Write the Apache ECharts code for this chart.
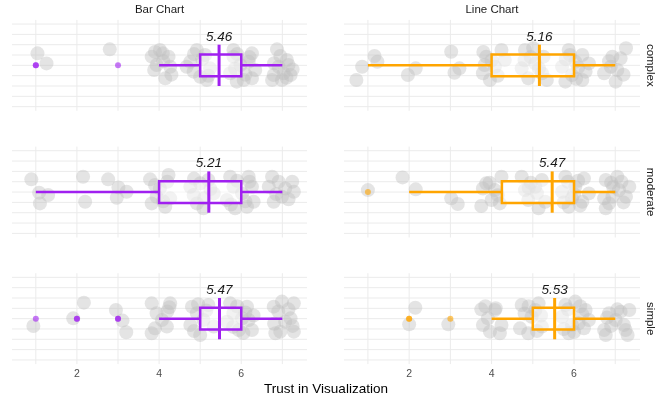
<!DOCTYPE html>
<html>
<head>
<meta charset="utf-8">
<script src="https://cdn.jsdelivr.net/npm/echarts@6/dist/echarts.min.js"></script>
<style>html,body{margin:0;padding:0;background:#fff}#c{width:670px;height:402px}</style>
</head>
<body>
<div id="c"></div>
<script>
// ---------- data ----------
const facetCols = ['Bar Chart', 'Line Chart'];
const facetRows = ['complex', 'moderate', 'simple'];
const xTickLabels = [2, 4, 6];
const colColors = ['#A020F0', '#FFA500'];

// jittered points [value + jitter, vertical jitter]
const ptsBarComplex = [[1.04,1.16],[1.26,0.19],[2.8,1.55],
 [3.82,0.84],[3.94,0.03],[4.09,1.16],[4.23,0.84],[4.15,-1.26],[3.88,-0.45],[4.27,-0.13],[4.02,1.48],[4.1,0.4],[3.9,1.3],[4.3,-0.9],
 [4.76,0.35],[4.92,1.48],[4.84,-0.61],[5.16,-1.42],[5.12,1.0],[4.67,-0.13],[5.24,-0.29],[5.0,-1.1],[5.05,0.6],[4.85,1.1],[5.2,-1.0],
 [5.81,1.48],[5.89,-1.58],[6.26,1.16],[6.26,-1.26],[5.73,-0.77],[5.98,0.03],[6.18,0.35],[5.81,0.84],[6.06,-1.42],[6.34,-0.45],[5.9,1.1],[6.1,-0.9],[6.2,0.8],[5.85,-0.3],
 [6.87,1.55],[7.11,0.52],[6.79,-0.94],[7.03,-0.77],[7.2,-0.94],[6.75,-1.42],[6.99,-1.42],[7.15,0.03],[6.91,-0.13],[6.95,0.9],[7.25,-0.4],[6.8,0.2],[7.1,-1.2]];
const ptsLineComplex = [[0.72,-1.42],[0.86,-0.13],[1.16,0.9],[1.23,0.35],
 [1.97,-0.94],[2.16,-0.29],[3.02,1.32],[3.1,-0.71],[3.22,-0.29],
 [3.79,-0.77],[3.87,0.84],[3.96,-1.42],[4.24,1.48],[4.08,-0.13],[3.83,0.03],[4.32,0.52],[4.0,0.5],[4.15,-1.0],[3.8,1.3],
 [4.81,1.48],[5.01,1.65],[5.26,0.84],[4.73,-0.29],[4.89,-1.26],[5.22,-0.77],[5.06,0.19],[5.34,-1.42],[4.95,0.8],[5.15,-0.3],[4.8,0.5],
 [5.79,-1.58],[5.87,1.48],[6.2,1.0],[6.28,-0.61],[6.2,-1.42],[5.71,-0.13],[6.03,0.35],[6.36,0.19],[5.95,-0.94],[5.9,1.0],[6.1,-0.2],[5.8,0.6],[6.05,-1.3],
 [6.73,-0.77],[6.93,0.84],[7.26,1.65],[7.13,0.68],[7.05,-0.45],[7.01,-1.58],[6.89,-0.13],[7.2,-0.9],[6.85,0.4]];
const ptsBarModerate = [[0.89,1.23],[1.08,-0.06],[1.1,-1.1],[1.3,-0.29],
 [2.15,1.48],[2.2,-0.94],[2.76,1.23],[3.01,0.45],[2.97,-0.55],[3.21,0.03],
 [3.78,1.23],[4.23,1.65],[3.82,-1.1],[4.15,-1.42],[4.02,0.35],[3.94,-0.45],[4.27,-0.61],[3.9,0.68],[4.1,-0.9],[4.2,1.0],
 [4.84,-0.29],[5.0,0.84],[5.33,-0.13],[5.08,-1.58],[4.92,-1.1],[5.2,1.16],[4.76,0.52],[5.1,-0.6],[4.85,1.3],[5.25,0.3],
 [5.73,1.48],[5.85,-1.58],[6.18,1.48],[6.3,-0.94],[5.65,-0.77],[6.02,-0.13],[6.14,-1.42],[5.81,0.52],[6.26,0.52],[5.9,1.1],[6.1,-0.9],[5.75,-1.2],[6.2,1.0],
 [6.75,1.48],[6.79,-0.94],[6.99,-0.45],[7.24,1.0],[7.28,0.03],[6.67,0.52],[7.07,0.35],[6.91,1.0],[6.85,-0.2],[7.15,-0.7]];
const ptsLineModerate = [[1.0,0.19],[1.84,1.42],[2.16,0.26],[3.02,-0.61],[3.18,-1.16],
 [3.75,-1.35],[3.87,0.84],[4.0,-0.77],[4.24,1.48],[4.08,0.19],[4.2,-1.1],[3.79,0.35],[3.95,0.9],[4.15,-0.3],
 [4.73,1.48],[4.89,-0.77],[5.14,-1.58],[5.3,-0.94],[5.06,0.52],[4.81,0.19],[5.22,1.16],[4.95,0.9],[5.1,-0.1],[4.9,0.4],
 [5.79,1.48],[5.87,-1.42],[6.24,1.32],[6.2,-0.94],[5.71,0.03],[6.03,0.52],[6.36,-0.13],[5.95,-0.61],[5.85,1.0],[6.1,1.1],[5.75,-1.0],[6.15,-1.3],[6.0,-0.2],
 [6.77,-1.58],[6.77,1.16],[7.05,1.48],[7.26,-0.45],[7.34,0.52],[6.93,-0.45],[7.09,0.19],[6.73,-0.61],[6.9,0.9],[7.15,1.0],[6.85,-1.1],[7.2,-1.0],[6.95,0.5]];
const ptsBarSimple = [[0.94,-0.71],[1.91,0.03],[2.17,1.55],[2.95,0.84],[3.11,-0.19],[3.2,-1.32],
 [3.82,1.48],[3.82,-1.42],[4.27,1.48],[3.94,0.52],[4.19,-0.77],[3.9,-0.94],[4.07,-0.13],[4.2,0.7],[4.25,1.1],
 [4.8,1.16],[5.2,1.32],[5.0,-1.58],[4.76,-0.61],[5.08,-0.13],[4.92,0.52],[5.33,-0.77],[4.85,-1.2],[5.15,0.8],[4.95,1.4],
 [5.73,1.48],[5.94,-1.1],[6.14,1.16],[6.26,-1.1],[5.65,-0.29],[6.02,0.03],[6.18,-0.13],[5.81,0.52],[5.9,1.2],[6.1,0.6],[5.8,-0.8],[6.05,-1.4],[6.3,0.3],
 [6.79,1.16],[6.99,1.65],[7.28,1.48],[6.83,-1.42],[7.28,-1.26],[7.07,-0.29],[7.2,0.03],[6.95,-1.26],[6.9,0.7],[7.15,0.9],[6.8,-0.5],[7.25,-0.7]];
const ptsLineSimple = [[2.0,-0.55],[2.15,1.06],[2.95,-0.55],
 [3.75,0.9],[3.79,-0.61],[3.96,-1.26],[4.2,-1.42],[4.08,0.84],[3.91,0.03],[4.24,-0.61],[3.85,1.2],[4.1,1.0],
 [4.73,1.32],[4.69,-0.94],[4.89,-1.42],[5.14,1.48],[5.22,-0.77],[4.97,0.19],[5.06,0.84],[4.8,0.5],[5.2,0.3],[4.9,1.2],[5.1,-1.2],
 [5.79,1.32],[5.87,-1.42],[6.28,0.84],[6.24,-0.94],[5.71,0.19],[6.03,1.65],[6.11,-0.45],[5.95,-0.61],[6.36,-0.13],[5.85,0.9],[6.15,1.2],[5.75,-1.0],[6.0,-1.3],[6.2,0.4],
 [6.73,-1.1],[6.77,-1.58],[6.85,0.52],[7.13,0.68],[7.3,-1.58],[7.21,-0.61],[7.34,0.84],[7.01,-0.13],[6.8,0.1],[7.05,0.9],[7.25,-1.1],[6.9,-0.7]];

// box stats: [whiskerLow, Q1, Q3, whiskerHigh, mean]
const statsBarComplex = [4, 5, 6, 7, 5.46];
const statsLineComplex = [1, 4, 6, 7, 5.16];
const statsBarModerate = [1, 4, 6, 7, 5.21];
const statsLineModerate = [2, 4.25, 6, 7, 5.47];
const statsBarSimple = [4, 5, 6, 7, 5.47];
const statsLineSimple = [4, 5, 6, 7, 5.53];

// outliers (repeats = overlapping observations)
const outBarComplex = [1, 1, 3];
const outLineComplex = [];
const outBarModerate = [];
const outLineModerate = [1];
const outBarSimple = [1, 2, 2, 3, 3];
const outLineSimple = [2, 2, 3];

const gridXVals = [1, 2, 3, 4, 5, 6, 7];
const gridYVals = [-4, -3, -2, -1, 0, 1, 2, 3, 4];

// ---------- chart ----------
const panels = [
  [ptsBarComplex, statsBarComplex, outBarComplex, ptsLineComplex, statsLineComplex, outLineComplex],
  [ptsBarModerate, statsBarModerate, outBarModerate, ptsLineModerate, statsLineModerate, outLineModerate],
  [ptsBarSimple, statsBarSimple, outBarSimple, ptsLineSimple, statsLineSimple, outLineSimple]
];
const FONT = '"Liberation Sans", Arial, Helvetica, sans-serif';
const rowTops = [19.9, 146.6, 273.2];
const panelH = 90.9;
const colLeft = [12, 344];
const colW = [295, 296];
const GRID_COLOR = '#ebebeb';

function vGridRender(params, api) {
  const cs = params.coordSys;
  const p = api.coord([api.value(0), 0]);
  return {type: 'line', shape: {x1: p[0], y1: cs.y, x2: p[0], y2: cs.y + cs.height},
    style: {stroke: GRID_COLOR, lineWidth: 1}};
}
function hGridRender(params, api) {
  const cs = params.coordSys;
  const p = api.coord([1, api.value(0)]);
  return {type: 'line', shape: {x1: cs.x, y1: p[1], x2: cs.x + cs.width, y2: p[1]},
    style: {stroke: GRID_COLOR, lineWidth: 1}};
}

const grids = [], xAxes = [], yAxes = [], series = [];
let gi = 0;
for (let r = 0; r < 3; r++) {
  for (let c = 0; c < 2; c++) {
    grids.push({left: colLeft[c], top: rowTops[r], width: colW[c], height: panelH, containLabel: false});
    xAxes.push({
      type: 'value', gridIndex: gi, min: 0.42, max: 7.6,
      axisLine: {show: false}, axisTick: {show: false}, splitLine: {show: false},
      axisLabel: {show: r === 2, customValues: xTickLabels, color: '#4d4d4d', fontSize: 10.5, fontFamily: FONT, margin: 5}
    });
    yAxes.push({type: 'value', gridIndex: gi, min: -4.4, max: 4.4, show: false, splitLine: {show: false}});
    const pts = panels[r][c * 3], st = panels[r][c * 3 + 1], outs = panels[r][c * 3 + 2];
    const col = colColors[c];
    series.push({
      type: 'custom', xAxisIndex: gi, yAxisIndex: gi, z: 0, silent: true,
      data: gridXVals.map(v => [v]), encode: {x: 0}, renderItem: vGridRender
    });
    series.push({
      type: 'custom', xAxisIndex: gi, yAxisIndex: gi, z: 0, silent: true,
      data: gridYVals.map(v => [v]), encode: {y: 0}, renderItem: hGridRender
    });
    series.push({
      type: 'scatter', xAxisIndex: gi, yAxisIndex: gi, data: pts, symbolSize: 14, z: 2, silent: true,
      itemStyle: {color: '#bebebe', opacity: 0.42}
    });
    series.push({
      type: 'scatter', xAxisIndex: gi, yAxisIndex: gi, data: outs.map(v => [v, 0]), symbolSize: 6, z: 3, silent: true,
      itemStyle: {color: col, opacity: 0.6}
    });
    series.push({
      type: 'custom', xAxisIndex: gi, yAxisIndex: gi, z: 4, silent: true, clip: false,
      data: [st],
      encode: {x: [0, 1, 2, 3, 4]},
      renderItem: (function (color) {
        return function (params, api) {
          const wlo = api.value(0), q1 = api.value(1), q3 = api.value(2), whi = api.value(3), mean = api.value(4);
          const a = api.coord([wlo, 0]), b = api.coord([q1, 0]), cc = api.coord([q3, 0]), d = api.coord([whi, 0]);
          const bt = api.coord([q1, 1.05]), bb = api.coord([q3, -1.05]);
          const mt = api.coord([mean, 2]), mb = api.coord([mean, -2]);
          const lp = api.coord([mean, 2.75]);
          return {
            type: 'group',
            children: [
              {type: 'line', shape: {x1: a[0], y1: a[1], x2: b[0], y2: b[1]}, style: {stroke: color, lineWidth: 2.5}},
              {type: 'line', shape: {x1: cc[0], y1: cc[1], x2: d[0], y2: d[1]}, style: {stroke: color, lineWidth: 2.5}},
              {type: 'rect', shape: {x: bt[0], y: bt[1], width: bb[0] - bt[0], height: bb[1] - bt[1]},
               style: {fill: 'rgba(255,255,255,0.5)', stroke: color, lineWidth: 2.5}},
              {type: 'line', shape: {x1: mt[0], y1: mt[1], x2: mb[0], y2: mb[1]}, style: {stroke: color, lineWidth: 3}},
              {type: 'text', style: {x: lp[0], y: lp[1], text: mean.toFixed(2), fill: '#1a1a1a',
                fontSize: 13.5, fontStyle: 'italic', fontFamily: FONT, align: 'center', verticalAlign: 'middle'}}
            ]
          };
        };
      })(col)
    });
    gi++;
  }
}

const graphics = [
  {type: 'text', style: {x: 159.5, y: 10, text: facetCols[0], fill: '#1a1a1a', fontSize: 11.5, fontFamily: FONT, align: 'center', verticalAlign: 'middle'}},
  {type: 'text', style: {x: 492, y: 10, text: facetCols[1], fill: '#1a1a1a', fontSize: 11.5, fontFamily: FONT, align: 'center', verticalAlign: 'middle'}},
  {type: 'text', style: {x: 326, y: 389, text: 'Trust in Visualization', fill: '#000', fontSize: 13.5, fontFamily: FONT, align: 'center', verticalAlign: 'middle'}}
];
const rowCenters = [65.3, 192, 318.7];
for (let r = 0; r < 3; r++) {
  graphics.push({type: 'text', x: 650, y: rowCenters[r], rotation: -Math.PI / 2,
    style: {x: 0, y: 0, text: facetRows[r], fill: '#1a1a1a', fontSize: 11.5, fontFamily: FONT, align: 'center', verticalAlign: 'middle'}});
}

const chart = echarts.init(document.getElementById('c'));
chart.setOption({
  animation: false,
  backgroundColor: '#fff',
  grid: grids, xAxis: xAxes, yAxis: yAxes, series: series, graphic: graphics
});
</script>
</body>
</html>
